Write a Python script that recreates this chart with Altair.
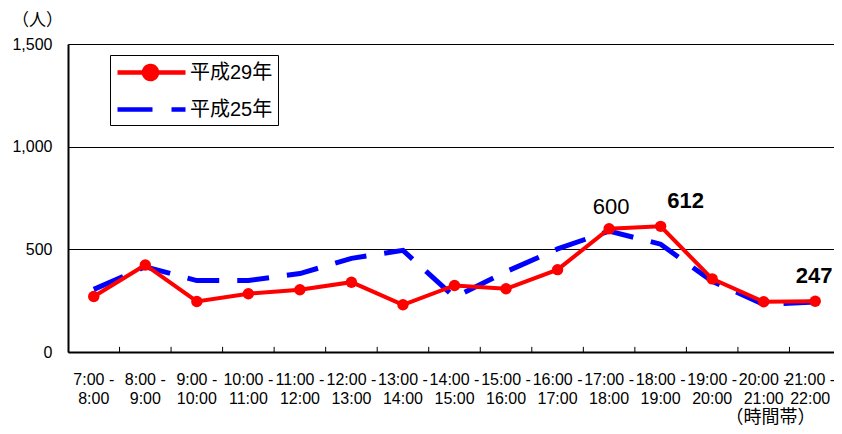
import altair as alt
import pandas as pd

# ---- data ----
time_slots = ["7:00-8:00", "8:00-9:00", "9:00-10:00", "10:00-11:00", "11:00-12:00",
              "12:00-13:00", "13:00-14:00", "14:00-15:00", "15:00-16:00", "16:00-17:00",
              "17:00-18:00", "18:00-19:00", "19:00-20:00", "20:00-21:00", "21:00-22:00"]
h29_values = [270, 424, 246, 284, 303, 340, 230, 324, 308, 401, 600, 612, 356, 245, 247]
h25_values = [305, 415, 348, 348, 382, 456, 495, 267, 391, 502, 589, 525, 344, 232, 244]
series_names = ["平成29年", "平成25年"]
series_colors = ["#FF0000", "#0000FF"]
y_ticks = [0, 500, 1000, 1500]
label_slots = ["17:00-18:00", "18:00-19:00", "21:00-22:00"]
label_values = [600, 612, 247]

FONT = "Liberation Sans, Noto Sans CJK JP"
CJK = "Noto Sans CJK JP"

rows = []
for s, v in zip(time_slots, h29_values):
    rows.append({"slot": s, "value": v, "series": series_names[0]})
for s, v in zip(time_slots, h25_values):
    rows.append({"slot": s, "value": v, "series": series_names[1]})
df = pd.DataFrame(rows)
df_labels = pd.DataFrame({"slot": label_slots, "value": label_values})
df_ticks = pd.DataFrame({"slot": time_slots[1:]})

last_slot = time_slots[-1]
x_scale = alt.Scale(type="band", domain=time_slots, paddingInner=0, paddingOuter=0)
x_axis = alt.Axis(
    title="（時間帯）", titleX=702, titleY=65, titleAlign="center", titleBaseline="middle",
    titleFontSize=18, titleFontWeight="normal", titleFont=CJK, titleColor="#000",
    labelExpr="[split(datum.label, '-')[0] + ' -', split(datum.label, '-')[1]]",
    labelAngle=0, labelFontSize=16, labelFont=FONT, labelColor="#000",
    labelPadding=19, labelLineHeight=19, labelBaseline="top", labelOverlap=False,
    labelOffset=alt.ExprRef(expr=f"datum.value === '{last_slot}' ? -5 : 0"),
    tickSize=0, domainColor="#000", domainWidth=2, grid=False,
)
y_scale = alt.Scale(domain=[0, 1500], nice=False)
y_axis = alt.Axis(
    values=y_ticks, format=",d", title="（人）", titleAngle=0, titleX=-31, titleY=-24,
    titleAlign="center", titleBaseline="middle", titleFontSize=17, titleFontWeight="normal",
    titleFont=CJK, titleColor="#000",
    grid=True, gridColor="#000", gridWidth=1, domainColor="#000", domainWidth=2,
    tickSize=0, labelPadding=16, labelFontSize=16, labelFont=FONT, labelColor="#000",
)

X = alt.X("slot:N", scale=x_scale, axis=x_axis, sort=time_slots)
Y = alt.Y("value:Q", scale=y_scale, axis=y_axis)

is29 = "datum.value === '平成29年'"
red_path = "M-1,0H5.8M1.65,0A0.65,0.65 0 1,0 2.95,0A0.65,0.65 0 1,0 1.65,0"
blue_path = "M-1,0H5.8"
legend = alt.Legend(
    orient="none", legendX=42, legendY=11, title=None, direction="vertical",
    fillColor="white", strokeColor="#000", padding=5,
    symbolSize=400, symbolStrokeWidth=4.5, labelOffset=50,
    labelFontSize=20, labelFont=FONT, labelColor="#000", rowPadding=8,
    symbolType=alt.ExprRef(expr=f"{is29} ? '{red_path}' : '{blue_path}'"),
    symbolFillColor=alt.ExprRef(expr=f"{is29} ? '#FF0000' : 'transparent'"),
    symbolDash=alt.ExprRef(expr=f"{is29} ? [1, 0] : [35, 19]"),
)
color = alt.Color("series:N", scale=alt.Scale(domain=series_names, range=series_colors), legend=legend)

base = alt.Chart(df)

ticks = alt.Chart(df_ticks).mark_rule(color="#000", strokeWidth=1).encode(
    x=alt.X("slot:N", scale=x_scale, axis=x_axis, sort=time_slots, bandPosition=0),
    y=alt.datum(0),
    y2=alt.datum(25),
)

blue_line = base.transform_filter(alt.datum.series == series_names[1]).mark_line(
    strokeWidth=5, strokeDash=[32, 18]
).encode(x=X, y=Y, color=color)

red_line = base.transform_filter(alt.datum.series == series_names[0]).mark_line(
    strokeWidth=4
).encode(x=X, y=Y, color=color)

red_points = base.transform_filter(alt.datum.series == series_names[0]).mark_point(
    filled=True, size=130, opacity=1, color="#FF0000"
).encode(x=X, y=Y)


def label_layer(slot, dx, dy, weight):
    return alt.Chart(df_labels).transform_filter(alt.datum.slot == slot).mark_text(
        dx=dx, dy=dy, fontSize=22, fontWeight=weight, font=FONT, color="#000", baseline="middle"
    ).encode(x=X, y=Y, text=alt.Text("value:Q", format="d"))


lab1 = label_layer(label_slots[0], 2, -22, "normal")
lab2 = label_layer(label_slots[1], 25, -25, "bold")
lab3 = label_layer(label_slots[2], -1, -25, "bold")

chart = alt.layer(ticks, blue_line, red_line, red_points, lab1, lab2, lab3).properties(
    width=773, height=308,
    padding={"left": 60, "top": 36, "right": -7, "bottom": 74},
    autosize=alt.AutoSizeParams(type="none"),
    background="white",
).configure_view(stroke="#000", strokeWidth=1.5).configure(font=FONT)

chart.save("out.html", embed_options={"renderer": "svg", "actions": False})
